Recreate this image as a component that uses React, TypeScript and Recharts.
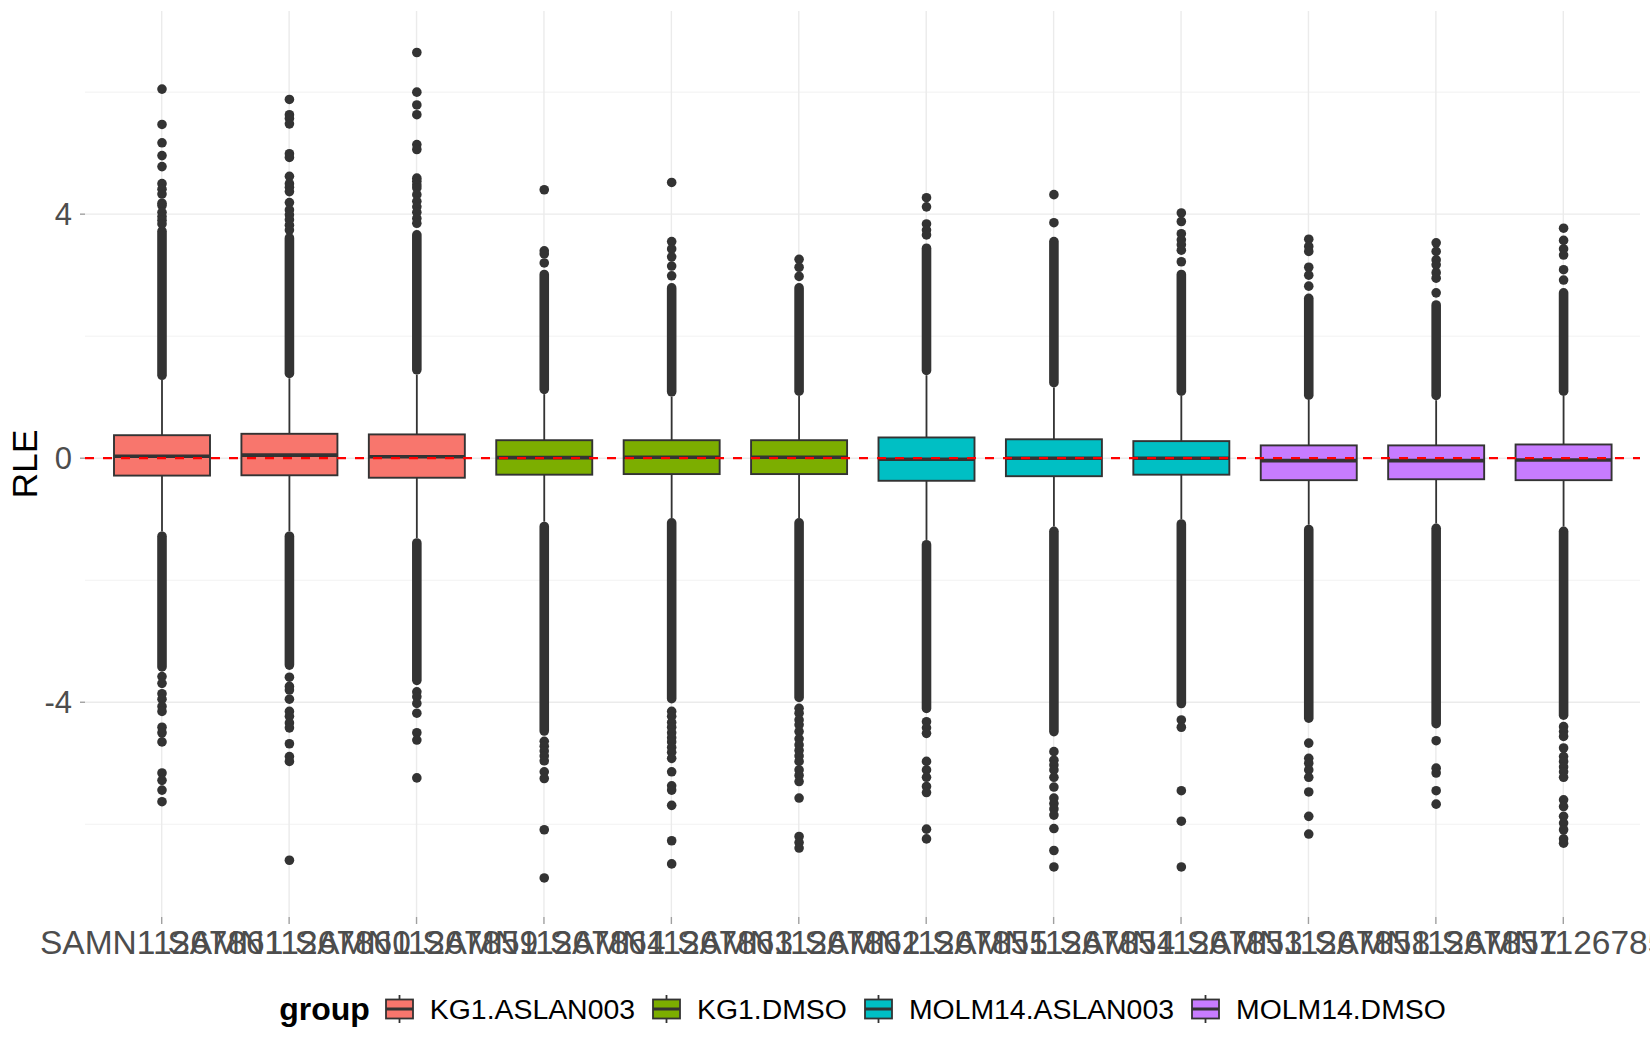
import React from 'react';
import {
  ComposedChart,
  Bar,
  XAxis,
  YAxis,
  CartesianGrid,
  ReferenceLine,
  Legend,
} from 'recharts';

// ---------------------------------------------------------------------------
// data
// ---------------------------------------------------------------------------

const samples = [
  'SAMN11267861', 'SAMN11267860', 'SAMN11267859',
  'SAMN11267864', 'SAMN11267863', 'SAMN11267862',
  'SAMN11267855', 'SAMN11267854', 'SAMN11267853',
  'SAMN11267858', 'SAMN11267857', 'SAMN11267856',
];

const sampleGroups = [
  'KG1.ASLAN003', 'KG1.ASLAN003', 'KG1.ASLAN003',
  'KG1.DMSO', 'KG1.DMSO', 'KG1.DMSO',
  'MOLM14.ASLAN003', 'MOLM14.ASLAN003', 'MOLM14.ASLAN003',
  'MOLM14.DMSO', 'MOLM14.DMSO', 'MOLM14.DMSO',
];

const groups = ['KG1.ASLAN003', 'KG1.DMSO', 'MOLM14.ASLAN003', 'MOLM14.DMSO'];
const groupColors = ['#F8766D', '#7CAE00', '#00BFC4', '#C77CFF'];

const q1 = [-0.285, -0.28, -0.32, -0.27, -0.26, -0.26, -0.37, -0.295, -0.27, -0.36, -0.345, -0.36];
const medians = [0.033, 0.05, 0.025, 0.01, 0.015, 0.015, -0.017, 0.0, 0.0, -0.04, -0.04, -0.03];
const q3 = [0.377, 0.4, 0.39, 0.295, 0.295, 0.295, 0.34, 0.31, 0.28, 0.21, 0.21, 0.225];

const upperWhisker = [1.28, 1.31, 1.37, 1.05, 1.01, 1.02, 1.36, 1.16, 1.02, 0.955, 0.95, 1.02];
const lowerWhisker = [-1.2, -1.2, -1.31, -1.04, -0.98, -0.98, -1.34, -1.12, -1.0, -1.09, -1.07, -1.12];

// outliers packed so tightly they read as a solid column
const upperDenseTop = [3.8, 3.69, 3.74, 3.09, 2.87, 2.87, 3.52, 3.63, 3.09, 2.7, 2.59, 2.79];
const lowerDenseBottom = [-3.5, -3.47, -3.72, -4.55, -4.02, -4.0, -4.18, -4.56, -4.1, -4.34, -4.43, -4.29];

const upperOutliers: number[][] = [
  [6.05, 5.47, 5.17, 4.96, 4.78, 4.5, 4.41, 4.33, 4.18, 4.14, 4.03, 3.96, 3.9, 3.84],
  [5.88, 5.63, 5.57, 5.48, 4.99, 4.93, 4.62, 4.5, 4.44, 4.37, 4.19, 4.07, 3.99, 3.91, 3.82, 3.74],
  [6.65, 6.0, 5.79, 5.63, 5.14, 5.06, 4.59, 4.54, 4.48, 4.43, 4.32, 4.21, 4.12, 4.03, 3.93, 3.85],
  [4.4, 3.4, 3.35, 3.2],
  [4.52, 3.55, 3.43, 3.3, 3.15, 2.99],
  [3.26, 3.13, 2.98],
  [4.27, 4.12, 3.84, 3.74, 3.66],
  [4.32, 3.86],
  [4.02, 3.88, 3.68, 3.58, 3.5, 3.41, 3.22],
  [3.59, 3.47, 3.39, 3.13, 3.0, 2.82],
  [3.53, 3.39, 3.25, 3.17, 3.04, 2.95, 2.71],
  [3.77, 3.57, 3.43, 3.33, 3.09, 2.92],
];

const lowerOutliers: number[][] = [
  [-3.58, -3.69, -3.86, -3.95, -4.07, -4.15, -4.41, -4.5, -4.65, -5.16, -5.28, -5.44, -5.63],
  [-3.59, -3.74, -3.8, -3.95, -4.15, -4.23, -4.34, -4.42, -4.68, -4.89, -4.97, -6.59],
  [-3.83, -3.91, -4.02, -4.18, -4.5, -4.62, -5.24],
  [-4.64, -4.72, -4.8, -4.88, -4.96, -5.14, -5.25, -6.09, -6.88],
  [-4.15, -4.23, -4.33, -4.41, -4.5, -4.58, -4.65, -4.74, -4.82, -4.92, -5.14, -5.37, -5.44, -5.69, -6.27, -6.65],
  [-4.1, -4.18, -4.29, -4.37, -4.48, -4.6, -4.7, -4.79, -4.88, -4.97, -5.11, -5.2, -5.3, -5.57, -6.2, -6.3, -6.39],
  [-4.32, -4.42, -4.51, -4.97, -5.11, -5.23, -5.38, -5.48, -6.08, -6.24],
  [-4.81, -4.95, -5.03, -5.11, -5.23, -5.39, -5.57, -5.66, -5.75, -5.85, -6.07, -6.43, -6.7],
  [-4.29, -4.41, -5.45, -5.95, -6.7],
  [-4.67, -4.92, -5.0, -5.11, -5.23, -5.47, -5.87, -6.16],
  [-4.63, -5.08, -5.16, -5.45, -5.67],
  [-4.4, -4.48, -4.56, -4.75, -4.89, -4.97, -5.06, -5.14, -5.23, -5.6, -5.71, -5.87, -5.98, -6.09, -6.24, -6.31],
];

const yTicks = [-4, 0, 4];
const yMinorTicks = [-6, -2, 2, 6];
const yDomain = [-7.52, 7.33];

const rows = samples.map((sample, i) => ({
  sample,
  group: sampleGroups[i],
  q1: q1[i],
  median: medians[i],
  q3: q3[i],
  upperWhisker: upperWhisker[i],
  lowerWhisker: lowerWhisker[i],
  upperDenseTop: upperDenseTop[i],
  lowerDenseBottom: lowerDenseBottom[i],
  upperOutliers: upperOutliers[i],
  lowerOutliers: lowerOutliers[i],
  extent: [lowerDenseBottom[i], upperDenseTop[i]],
}));

// ---------------------------------------------------------------------------
// drawing helpers
// ---------------------------------------------------------------------------

const FONT = '"Liberation Sans", Arial, Helvetica, sans-serif';
const INK = '#333333';
const PT_R = 4.8;

// the bar covers the extent range, so its pixel box gives us the y mapping
const BoxShape = (props: any) => {
  const { x, y, width, height, payload } = props;
  if (!payload) return null;
  const top = Math.min(y, y + height);
  const h = Math.abs(height);
  const [lo, hi] = payload.extent;
  const k = h / (hi - lo);
  const yOf = (v: number) => top + (hi - v) * k;
  const cx = x + width / 2;
  const fill = groupColors[groups.indexOf(payload.group)];

  const upTop = yOf(payload.upperDenseTop);
  const upBot = yOf(payload.upperWhisker);
  const loTop = yOf(payload.lowerWhisker);
  const loBot = yOf(payload.lowerDenseBottom);

  return (
    <g>
      <line x1={cx} x2={cx} y1={upBot} y2={yOf(payload.q3)} stroke={INK} strokeWidth={1.8} />
      <line x1={cx} x2={cx} y1={yOf(payload.q1)} y2={loTop} stroke={INK} strokeWidth={1.8} />
      <rect x={cx - PT_R} y={upTop} width={PT_R * 2} height={upBot - upTop} rx={PT_R} fill={INK} />
      <rect x={cx - PT_R} y={loTop} width={PT_R * 2} height={loBot - loTop} rx={PT_R} fill={INK} />
      {payload.upperOutliers.map((v: number, j: number) => (
        <circle key={`u${j}`} cx={cx} cy={yOf(v)} r={PT_R} fill={INK} />
      ))}
      {payload.lowerOutliers.map((v: number, j: number) => (
        <circle key={`l${j}`} cx={cx} cy={yOf(v)} r={PT_R} fill={INK} />
      ))}
      <rect
        x={x}
        y={yOf(payload.q3)}
        width={width}
        height={yOf(payload.q1) - yOf(payload.q3)}
        fill={fill}
        stroke={INK}
        strokeWidth={1.9}
      />
      <line
        x1={x}
        x2={x + width}
        y1={yOf(payload.median)}
        y2={yOf(payload.median)}
        stroke={INK}
        strokeWidth={3.6}
      />
    </g>
  );
};

// minor horizontal grid at the in-between values of the y domain
const minorGridY = ({ yAxis, offset }: any) =>
  yMinorTicks.map((v) => {
    if (yAxis && typeof yAxis.scale === 'function') return yAxis.scale(v);
    return offset.top + ((yDomain[1] - v) / (yDomain[1] - yDomain[0])) * offset.height;
  });

const YTitle = (props: any) => {
  const vb = props.viewBox || { x: 0, y: 0, height: 0 };
  const cy = vb.y + vb.height / 2;
  return (
    <text
      x={37}
      y={cy}
      transform={`rotate(-90 37 ${cy})`}
      textAnchor="middle"
      fontFamily={FONT}
      fontSize={35.5}
      fill="#000000"
    >
      RLE
    </text>
  );
};

const LegendKey = ({ color }: { color: string }) => (
  <svg width={29} height={30} style={{ display: 'block' }}>
    <line x1={14.5} x2={14.5} y1={1} y2={29} stroke={INK} strokeWidth={1.8} />
    <rect x={1} y={5.5} width={27} height={19} fill={color} stroke={INK} strokeWidth={1.8} />
    <line x1={1} x2={28} y1={15} y2={15} stroke={INK} strokeWidth={3} />
  </svg>
);

const GroupLegend = () => (
  <div
    style={{
      display: 'flex',
      alignItems: 'center',
      justifyContent: 'center',
      height: 40,
      fontFamily: FONT,
      color: '#000000',
    }}
  >
    <span style={{ fontWeight: 'bold', fontSize: 32, marginRight: 15 }}>group</span>
    {groups.map((g, i) => (
      <div
        key={g}
        style={{ display: 'flex', alignItems: 'center', marginRight: i < groups.length - 1 ? 17 : 0 }}
      >
        <LegendKey color={groupColors[i]} />
        <span style={{ marginLeft: 16, fontSize: 28.4 }}>{g}</span>
      </div>
    ))}
  </div>
);

// ---------------------------------------------------------------------------
// main component
// ---------------------------------------------------------------------------

export default function App() {
  return (
    <div style={{ position: 'absolute', left: 0, top: 0, width: 1650, height: 1050, background: '#fff' }}>
      <ComposedChart
        width={1650}
        height={1050}
        data={rows}
        margin={{ top: 11, right: 10, bottom: 73, left: 0 }}
      >
        <CartesianGrid
          stroke="#F2F2F2"
          strokeWidth={1}
          vertical={false}
          horizontalCoordinatesGenerator={minorGridY}
        />
        <CartesianGrid stroke="#EBEBEB" strokeWidth={1.4} syncWithTicks />
        <XAxis
          dataKey="sample"
          interval={0}
          axisLine={false}
          tickLine={{ stroke: '#A0A0A0', strokeWidth: 1.4 }}
          tickSize={7}
          tickMargin={6}
          height={60}
          padding={{ left: 13, right: 13 }}
          tick={{ fontSize: 33.5, fill: '#4D4D4D', fontFamily: FONT }}
        />
        <YAxis
          type="number"
          domain={yDomain}
          ticks={yTicks}
          allowDataOverflow
          width={85}
          axisLine={false}
          tickLine={{ stroke: '#A0A0A0', strokeWidth: 1.4 }}
          tickSize={5}
          tickMargin={8}
          tick={{ fontSize: 31, fill: '#4D4D4D', fontFamily: FONT }}
          label={YTitle}
        />
        <Bar
          dataKey="extent"
          barSize={96}
          shape={BoxShape}
          isAnimationActive={false}
          legendType="none"
        />
        <ReferenceLine y={0} stroke="#FF0000" strokeWidth={2.2} strokeDasharray="9 9" />
        <Legend
          layout="horizontal"
          verticalAlign="middle"
          align="center"
          wrapperStyle={{ top: 989, left: 85, width: 1555, height: 40 }}
          content={GroupLegend}
        />
      </ComposedChart>
    </div>
  );
}
